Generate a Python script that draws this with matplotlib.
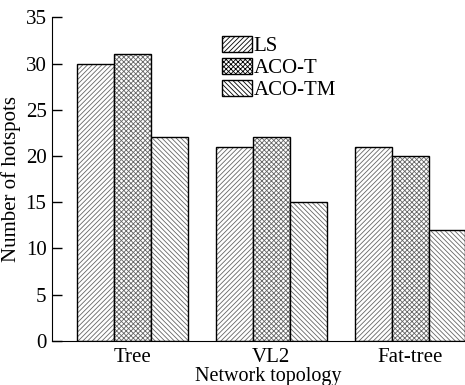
import matplotlib.pyplot as plt
import numpy as np

plt.rcParams['font.family'] = ['Liberation Serif', 'DejaVu Serif']
plt.rcParams['hatch.linewidth'] = 0.6

topologies = ['Tree', 'VL2', 'Fat-tree']
methods = ['LS', 'ACO-T', 'ACO-TM']
hotspots_ls = [30, 21, 21]
hotspots_acot = [31, 22, 20]
hotspots_acotm = [22, 15, 12]

series = [hotspots_ls, hotspots_acot, hotspots_acotm]
hatches = ['///////', 'xxxxxxx', '\\\\\\\\\\\\\\']

fig, ax = plt.subplots(figsize=(4.65, 3.85), dpi=100)
# the axes run a little past the right edge of the figure
fig.subplots_adjust(left=0.112, right=1.04, top=0.955, bottom=0.115)

x = np.arange(len(topologies))
w = 0.266
for i, (vals, h, name) in enumerate(zip(series, hatches, methods)):
    ax.bar(x + (i - 1) * w, vals, w, facecolor='white', edgecolor='#666666',
           hatch=h, linewidth=0, label=name)
    ax.bar(x + (i - 1) * w, vals, w, facecolor='none', edgecolor='black',
           linewidth=1.0)

ax.set_xlim(-0.58, 2.53)
ax.set_ylim(0, 35)
ax.set_yticks(range(0, 36, 5))
ax.set_xticks(x)
ax.set_xticklabels(topologies)
ax.tick_params(axis='y', direction='in', length=7, labelsize=15, width=1, pad=4)
ax.tick_params(axis='x', length=0, labelsize=15, pad=5)
ax.spines['top'].set_visible(False)
ax.spines['right'].set_visible(False)
ax.set_xlabel('Network topology', fontsize=14.5, labelpad=0)
ax.set_ylabel('Number of hotspots', fontsize=15, labelpad=3)

leg = ax.legend(loc='upper left', bbox_to_anchor=(0.375, 0.968), frameon=False,
                fontsize=15, handlelength=1.45, handleheight=0.77,
                handletextpad=0.05, labelspacing=0.1, borderaxespad=0)
for p in leg.get_patches():
    p.set_edgecolor('black')
    p.set_linewidth(1.0)

plt.savefig('out.png', dpi=100)
